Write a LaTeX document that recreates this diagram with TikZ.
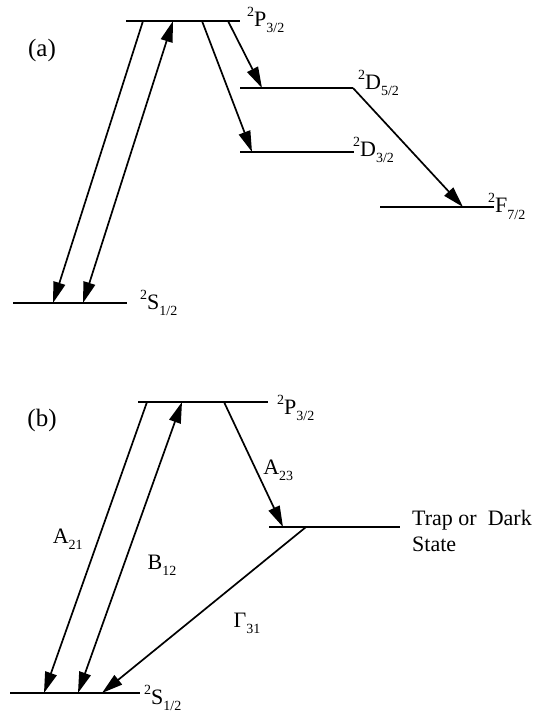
\documentclass[tikz,border=0pt]{standalone}
\usepackage{fontspec}
\setmainfont{Liberation Serif}
\usetikzlibrary{arrows.meta,positioning}

\newcommand{\lvl}[2]{\raisebox{10pt}{\fontsize{14}{14}\selectfont 2}#1\raisebox{-6pt}{\fontsize{14}{14}\selectfont #2}}
\newcommand{\coef}[2]{#1\raisebox{-6pt}{\fontsize{14}{14}\selectfont #2}}

\begin{document}
\begin{tikzpicture}[
    x=1pt, y=-1pt,
    font=\fontsize{22}{26}\selectfont,
    lev/.style={minimum width=#1, minimum height=0pt, inner sep=0pt, outer sep=0pt},
    term/.style={inner sep=0pt, anchor=base west},
    rate/.style={inner sep=0pt},
    tag/.style={inner sep=0pt, font=\fontsize{25}{25}\selectfont},
    arr/.style={-{Triangle[length=21pt,width=12pt]}, line width=1.7pt},
    darr/.style={{Triangle[length=21pt,width=12pt]}-{Triangle[length=21pt,width=12pt]}, line width=1.7pt},
]
\useasboundingbox (0,0) rectangle (544,719);

% (a) levels
\node[lev=114pt] (Pa) at (183,21) {};
\node[lev=114pt] (Sa) at (70,303) {};
\node[lev=113pt] (D5) at (296.5,88) {};
\node[lev=114pt] (D3) at (297,152) {};
\node[lev=114pt] (F7) at (437,207) {};

% (b) levels
\node[lev=130pt] (Pb) at (203,402) {};
\node[lev=130pt] (Sb) at (75,693) {};
\node[lev=131pt] (Trap) at (334.5,527) {};

\foreach \s in {Pa,Sa,D5,D3,F7,Pb,Sb,Trap}
    \draw[line width=1.6pt] (\s.west) -- (\s.east);

% Level labels
\node[term] (Pa-t) at ([xshift=7pt,yshift=-6pt]Pa.east) {\lvl{P}{3/2}};
\node[term] (Sa-t) at ([xshift=13pt,yshift=-6pt]Sa.east) {\lvl{S}{1/2}};
\node[term] (D5-t) at ([xshift=5pt,yshift=-2pt]D5.east) {\lvl{D}{5/2}};
\node[term] (D3-t) at ([xshift=-1pt,yshift=-5pt]D3.east) {\lvl{D}{3/2}};
\node[term] (F7-t) at ([xshift=-6pt,yshift=-6pt]F7.east) {\lvl{F}{7/2}};
\node[term] (Pb-t) at ([xshift=9pt,yshift=-12pt]Pb.east) {\lvl{P}{3/2}};
\node[term] (Sb-t) at ([xshift=4pt,yshift=-11pt]Sb.east) {\lvl{S}{1/2}};
\node[anchor=north west, align=left, inner sep=0pt] (Trap-t)
    at ([xshift=12pt,yshift=17pt]Trap.east) {Trap or~ Dark\\State};

\node[tag] (tag-a) at (42,50) {(a)};
\node[tag] (tag-b) at (42,420) {(b)};

% (a) transitions
\draw[arr] ([xshift=17pt]Pa.west) -- ([xshift=40pt]Sa.west);
\draw[darr] ([xshift=70pt]Sa.west) -- ([xshift=47pt]Pa.west);
\draw[arr] ([xshift=76pt]Pa.west) -- ([xshift=12pt]D3.west);
\draw[arr] ([xshift=102pt]Pa.west) -- ([xshift=22pt]D5.west);
\draw[arr] (D5.east) -- ([xshift=83pt]F7.west);

% (b) transitions
\draw[arr] ([xshift=9pt]Pb.west) -- node[rate, pos=0.47, left=15pt] (A21) {\coef{A}{21}} ([xshift=34pt]Sb.west);
\draw[darr] ([xshift=68pt]Sb.west) -- node[rate, pos=0.44, right=23pt] (B12) {\coef{B}{12}} ([xshift=44pt]Pb.west);
\draw[arr] ([xshift=86pt]Pb.west) -- node[rate, pos=0.55, right=6pt] (A23) {\coef{A}{23}} ([xshift=14pt]Trap.west);
\draw[arr] ([xshift=37pt]Trap.west) -- node[rate, pos=0.58, right=45pt] (G31) {\coef{Γ}{31}} ([xshift=92pt]Sb.west);
\end{tikzpicture}
\end{document}
